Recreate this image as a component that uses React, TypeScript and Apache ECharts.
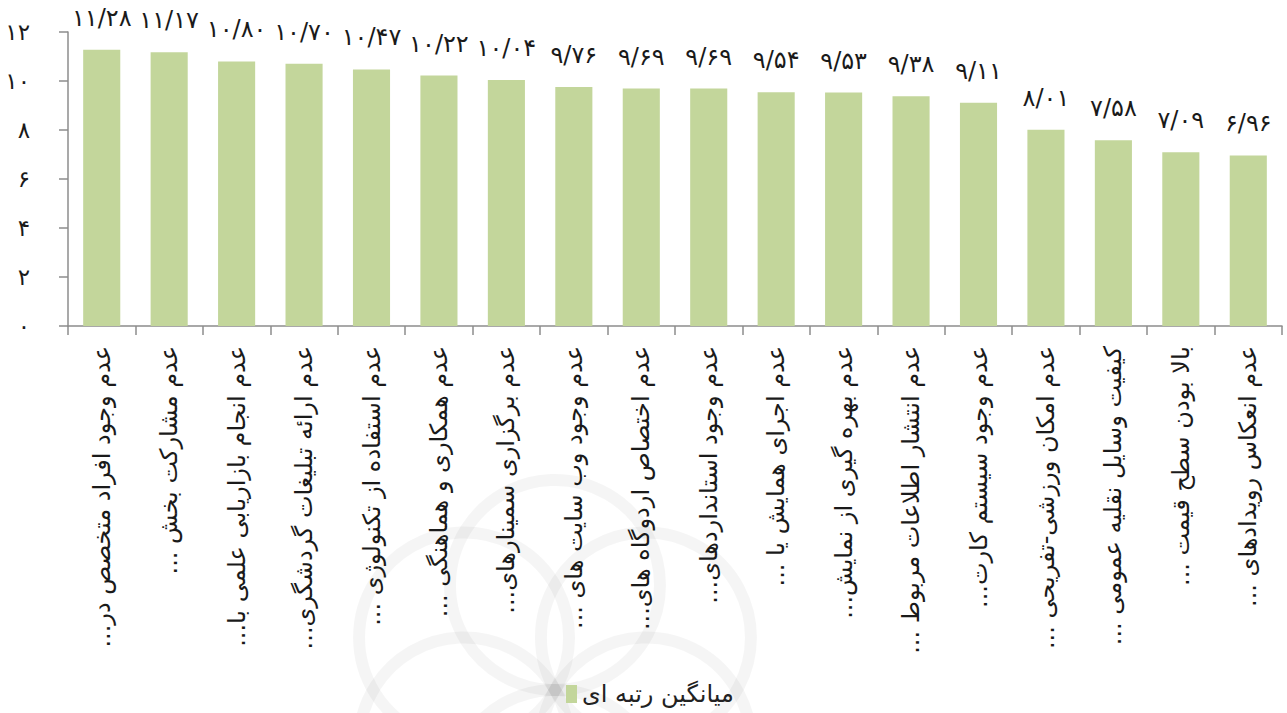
import React, { useEffect, useRef } from "react";
import * as echarts from "echarts";

const categories: string[] = [
  "عدم وجود افراد متخصص در...",
  "عدم مشارکت بخش ...",
  "عدم انجام بازاریابی علمی با...",
  "عدم ارائه تبلیغات گردشگری...",
  "عدم استفاده از تکنولوژی ...",
  "عدم همکاری و هماهنگی ...",
  "عدم برگزاری سمینارهای...",
  "عدم وجود وب سایت های ...",
  "عدم اختصاص اردوگاه های...",
  "عدم وجود استانداردهای...",
  "عدم اجرای همایش یا ...",
  "عدم بهره گیری از نمایش...",
  "عدم انتشار اطلاعات مربوط ...",
  "عدم وجود سیستم کارت...",
  "عدم امکان ورزشی-تفریحی ...",
  "کیفیت وسایل نقلیه عمومی ...",
  "بالا بودن سطح قیمت ...",
  "عدم انعکاس رویدادهای ...",
];

const meanRank: number[] = [
  11.28, 11.17, 10.8, 10.7, 10.47, 10.22, 10.04, 9.76, 9.69, 9.69, 9.54, 9.53,
  9.38, 9.11, 8.01, 7.58, 7.09, 6.96,
];

const seriesName = "میانگین رتبه ای";
const yTicks: number[] = [0, 2, 4, 6, 8, 10, 12];

const faDigits = "۰۱۲۳۴۵۶۷۸۹";
const toFa = (s: string) => s.replace(/[0-9]/g, (d) => faDigits[Number(d)]);
const RLM = "\u200F";

export default function App() {
  const ref = useRef<HTMLDivElement>(null);

  useEffect(() => {
    if (!ref.current) return;
    const chart = echarts.init(ref.current, undefined, { renderer: "svg" });
    const font = "DejaVu Sans";
    const wmCx = 555;
    const wmCy = 690;
    const wmCircles = [30, 90, 150, 210, 270, 330].map((a) => ({
      type: "circle",
      silent: true,
      z: -10,
      shape: {
        cx: wmCx + 105 * Math.cos((a * Math.PI) / 180),
        cy: wmCy + 105 * Math.sin((a * Math.PI) / 180),
        r: 105,
      },
      style: { fill: "none", stroke: "rgba(0,0,0,0.04)", lineWidth: 12 },
    }));
    chart.setOption({
      animation: false,
      backgroundColor: "#ffffff",
      textStyle: { fontFamily: font },
      graphic: wmCircles,
      grid: {
        left: 68,
        right: 5,
        top: 32,
        bottom: 387,
        containLabel: false,
        outerBoundsMode: "none",
      },
      legend: {
        data: [seriesName],
        left: 561,
        top: 677,
        icon: "rect",
        itemWidth: 11,
        itemHeight: 18,
        itemGap: 12,
        textStyle: { fontSize: 24, color: "#222", fontFamily: font },
        formatter: (n: string) => RLM + n + RLM,
      },
      xAxis: {
        type: "category",
        data: categories,
        axisLine: { lineStyle: { color: "#8c8c8c", width: 1.5 } },
        axisTick: {
          show: true,
          length: 9,
          lineStyle: { color: "#8c8c8c", width: 1.5 },
        },
        axisLabel: {
          interval: 0,
          rotate: 90,
          margin: 20,
          fontSize: 24,
          color: "#1a1a1a",
          fontFamily: font,
          formatter: (v: string) => RLM + v + RLM,
        },
      },
      yAxis: {
        type: "value",
        min: yTicks[0],
        max: yTicks[yTicks.length - 1],
        interval: 2,
        splitLine: { show: false },
        axisLine: { show: true, lineStyle: { color: "#8c8c8c", width: 1.5 } },
        axisTick: {
          show: true,
          length: 9,
          lineStyle: { color: "#8c8c8c", width: 1.5 },
        },
        axisLabel: {
          margin: 38,
          fontSize: 23,
          color: "#1a1a1a",
          fontFamily: font,
          formatter: (v: number) => toFa(String(v)),
        },
      },
      series: [
        {
          name: seriesName,
          type: "bar",
          data: meanRank,
          barCategoryGap: "45%",
          itemStyle: { color: "#c3d69b" },
          label: {
            show: true,
            position: "top",
            distance: 20,
            fontSize: 24,
            color: "#1a1a1a",
            fontFamily: font,
            formatter: (p: any) => toFa(p.value.toFixed(2).replace(".", "/")),
          },
        },
      ],
    });
    return () => chart.dispose();
  }, []);

  return (
    <div
      ref={ref}
      style={{ position: "fixed", left: 0, top: 0, width: 1287, height: 713 }}
    />
  );
}
